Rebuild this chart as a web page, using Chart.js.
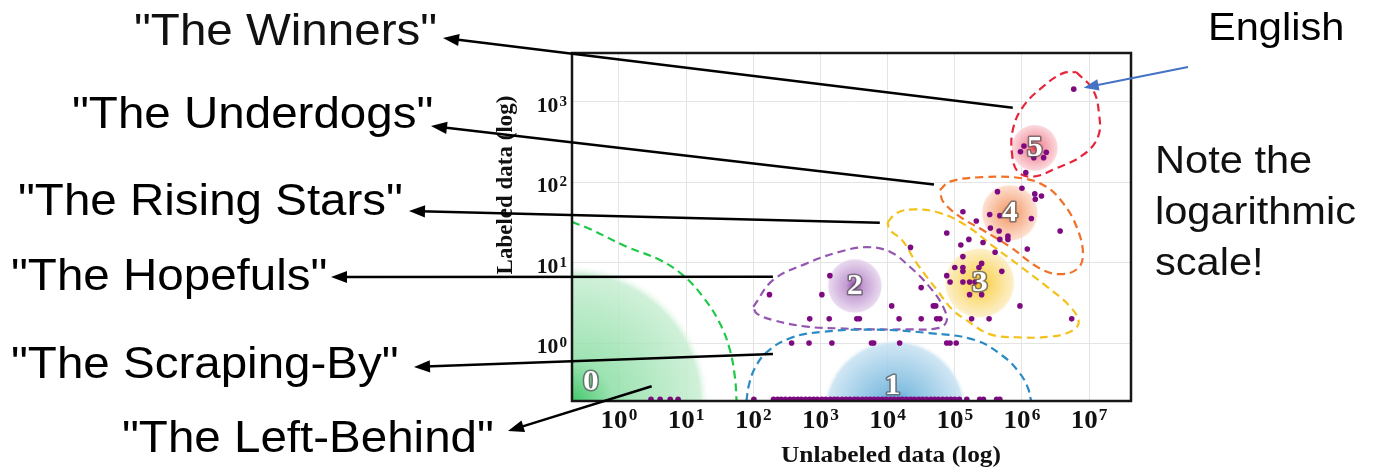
<!DOCTYPE html>
<html>
<head>
<meta charset="utf-8">
<script src="https://cdn.jsdelivr.net/npm/chart.js@4.4.1/dist/chart.umd.min.js"></script>
<style>
  html, body { margin: 0; padding: 0; background: #fff; }
  canvas { display: block; }
</style>
</head>
<body>
<canvas id="chart" width="1375" height="470"></canvas>
<script>
// axis ranges and ticks
const xMin = 0.2, xMax = 4.2e7;
const yMin = 0.19, yMax = 4070;
const xTicks = [1, 10, 100, 1e3, 1e4, 1e5, 1e6, 1e7];
const yTicks = [1, 10, 100, 1e3];
const xTickPowers = ['0', '1', '2', '3', '4', '5', '6', '7'];
const yTickPowers = ['0', '1', '2', '3'];

// languages with (almost) no labeled data sit on the floor of the plot
const floorY = 0.2;
const floorX = [3, 4.1, 5.8, 7.6, 102,
  200, 230, 260, 300, 350, 400, 460, 520, 600, 690, 790, 900, 1050, 1200, 1400, 1600,
  1800, 2100, 2400, 2750, 3200, 3600, 4200, 4800, 5500, 6300, 7200, 8300, 9500, 11000,
  12500, 14500, 16500, 19000, 22000, 25000, 29000, 33000, 38000, 44000, 50000, 57000,
  66000, 76000, 87000, 100000, 117000, 151000, 235000, 267000, 420000, 468000];

// all the other languages
const langX = [372, 676, 1480, 5750, 6200, 15100, 75900, 85000, 105000,
  692, 1350, 3470, 3800, 14800, 31600, 53700, 60000, 178000, 324000, 5.5e6,
  174, 1380, 1050, 11500, 31600, 47900, 52000, 21900, 75900, 132000, 209000, 339000,
  457000, 617000, 617000, 468000, 162000, 123000, 263000, 398000, 1.2e6, 132000,
  100000, 132000, 132000, 229000, 251000, 501000, 75900, 85100, 132000, 166000,
  200000, 166000, 251000, 933000,
  432000, 1.0e6, 1.55e6, 1.95e6, 1.58e6, 331000, 468000, 1.38e6, 3.7e6,
  1.07e6, 9.5e5, 2.3e6, 2.1e6, 1.5e6, 1.14e6, 5.9e6];
const langY = [1, 1, 1, 1, 1, 1, 1, 1, 1,
  2, 2, 2, 2, 2, 2, 2, 2, 2, 2, 2,
  4.0, 6.9, 4.0, 2.9, 4.9, 2.9, 2.9, 15.5, 23.4, 43, 33, 27,
  24.8, 21.4, 19.5, 19.5, 19.5, 16.6, 17.8, 13.5, 14.8, 11.9,
  8.7, 8.7, 7.8, 8.7, 9.8, 7.8, 6.9, 5.75, 5.75, 5.75,
  5.75, 4.0, 4.0, 2.9,
  76.6, 84.3, 71.8, 67.6, 61.7, 39.8, 38.5, 35.5, 24.8,
  283, 240, 237, 203, 203, 132, 1445];

// dashed cluster outlines
const contour0X = [0.2, 0.37, 1.3, 4.07, 8.96, 17.8, 31.8, 44.9, 53.2, 56.4];
const contour0Y = [32, 26.3, 15.8, 10.8, 7.0, 3.77, 1.76, 0.82, 0.38, 0.19];
const contour1X = [79, 86, 106, 159, 351, 1090, 6000, 42000, 199000, 520000, 930000, 1.22e6, 1.37e6];
const contour1Y = [0.19, 0.30, 0.49, 0.77, 1.15, 1.38, 1.47, 1.33, 1.09, 0.69, 0.42, 0.28, 0.19];
const contour2X = [100, 198, 621, 1950, 4850, 10800, 21400, 42000, 67000, 75000, 53000, 19100, 6100, 1950, 621, 198, 112, 100];
const contour2Y = [2.83, 6.1, 9.8, 13.7, 15.6, 13.7, 8.9, 5.0, 2.83, 1.84, 1.52, 1.48, 1.48, 1.52, 1.6, 1.93, 2.34, 2.83];
const contour3X = [1.0e4, 1.37e4, 2.5e4, 6.0e4, 1.51e5, 3.7e5, 9.3e5, 2.3e6, 5.1e6, 7.0e6, 5.5e6, 2.6e6, 8.3e5, 3.3e5, 1.49e5, 9.3e4, 5.4e4, 2.7e4, 1.63e4, 1.08e4, 1.0e4];
const contour3Y = [32, 41.6, 46, 41.6, 28.6, 16.1, 9.1, 5.1, 2.9, 1.83, 1.41, 1.2, 1.18, 1.29, 1.93, 2.58, 4.6, 9.9, 19.2, 25.5, 32];
const contour4X = [6.0e4, 8.4e4, 2.6e5, 1.04e6, 2.3e6, 4.1e6, 6.5e6, 8.1e6, 6.8e6, 3.7e6, 1.84e6, 6.6e5, 2.6e5, 1.19e5, 6.7e4, 6.0e4];
const contour4Y = [80, 102, 116, 112, 88, 55, 28, 13.1, 8.5, 7.2, 8.5, 15.8, 25.5, 37.4, 57.5, 80];
const contour5X = [6.47e6, 1.14e7, 1.40e7, 1.36e7, 8.1e6, 3.26e6, 1.46e6, 8.7e5, 7.1e5, 7.4e5, 1.04e6, 2.06e6, 4.09e6, 6.47e6];
const contour5Y = [2350, 1416, 726, 371, 219, 150, 118, 136, 230, 472, 877, 1556, 2286, 2350];

// cluster glows and their numbers
const clusterNames = ['0', '1', '2', '3', '4', '5'];
const glowX = [0.2, 12900, 3250, 235000, 658000, 1.55e6];
const glowY = [0.184, 0.14, 5.13, 5.59, 41.6, 268];
const nameX = [0.38, 11900, 3250, 235000, 658000, 1.55e6];
const nameY = [0.336, 0.30, 5.13, 5.59, 41.6, 268];

// annotation labels and where their arrows point in the plot
const calloutText = ['"The Winners"', '"The Underdogs"', '"The Rising Stars"', '"The Hopefuls"', '"The Scraping-By"', '"The Left-Behind"'];
const calloutX = [7.3e5, 4.9e4, 7650, 196, 196, 3.07];
const calloutY = [845, 94, 31.5, 6.7, 0.73, 0.29];
const englishX = 8.3e6, englishY = 1500;

const purple = '#7d0a80';
const glowStyles = [
  { r: 138, stops: ['rgba(55,196,98,0.95)', 'rgba(140,222,165,0.85)', 'rgba(200,238,210,0.85)'] },
  { r: 73, stops: ['rgba(20,122,192,0.95)', 'rgba(110,180,220,0.85)', 'rgba(200,226,242,0.85)'] },
  { r: 28, stops: ['rgba(128,45,150,0.95)', 'rgba(185,138,202,0.85)', 'rgba(228,210,236,0.85)'] },
  { r: 36, stops: ['rgba(246,178,0,0.95)', 'rgba(249,210,80,0.85)', 'rgba(252,236,190,0.85)'] },
  { r: 29, stops: ['rgba(240,98,22,0.95)', 'rgba(245,158,112,0.85)', 'rgba(252,218,200,0.85)'] },
  { r: 24, stops: ['rgba(230,38,62,0.95)', 'rgba(240,128,142,0.85)', 'rgba(250,208,214,0.85)'] }
];
const contourColors = ['#1ec848', '#2a8bc4', '#9556b0', '#f2c21a', '#f07025', '#e8243c'];

const serif = "'Liberation Serif', 'Times New Roman', serif";
const sans = "'Liberation Sans', Arial, sans-serif";
const stretch = 1.08;

const toXY = (xs, ys) => xs.map((x, i) => ({ x: x, y: ys[i] }));

function stretchedText(ctx, str, x, y, font, align) {
    ctx.save();
    ctx.translate(x, y);
    ctx.scale(stretch, 1);
    ctx.font = font;
    ctx.textAlign = align || 'left';
    ctx.textBaseline = 'alphabetic';
    ctx.fillText(str, 0, 0);
    ctx.restore();
}

function drawArrow(ctx, x1, y1, x2, y2, color, width, head) {
    const ang = Math.atan2(y2 - y1, x2 - x1);
    const c = Math.cos(ang), s = Math.sin(ang);
    ctx.strokeStyle = color;
    ctx.fillStyle = color;
    ctx.lineWidth = width;
    ctx.beginPath();
    ctx.moveTo(x1, y1);
    ctx.lineTo(x2 - c * head * 0.7, y2 - s * head * 0.7);
    ctx.stroke();
    ctx.beginPath();
    ctx.moveTo(x2, y2);
    ctx.lineTo(x2 - head * c + head * 0.38 * s, y2 - head * s - head * 0.38 * c);
    ctx.lineTo(x2 - head * c - head * 0.38 * s, y2 - head * s + head * 0.38 * c);
    ctx.closePath();
    ctx.fill();
}

const glowPlugin = {
    id: 'glows',
    beforeDatasetsDraw(chart) {
        const { ctx, chartArea: a, scales: { x, y } } = chart;
        ctx.save();
        ctx.beginPath();
        ctx.rect(a.left, a.top, a.width, a.height);
        ctx.clip();
        glowStyles.forEach((g, i) => {
            const cx = x.getPixelForValue(glowX[i]);
            const cy = y.getPixelForValue(glowY[i]);
            const grad = ctx.createRadialGradient(cx, cy, 0, cx, cy, g.r);
            grad.addColorStop(0, g.stops[0]);
            grad.addColorStop(0.3, g.stops[1]);
            grad.addColorStop(0.93, g.stops[2]);
            grad.addColorStop(1, 'rgba(255,255,255,0)');
            ctx.fillStyle = grad;
            ctx.beginPath();
            ctx.arc(cx, cy, g.r, 0, Math.PI * 2);
            ctx.fill();
        });
        ctx.restore();
    },
    afterDatasetsDraw(chart) {
        const { ctx, chartArea: a, scales: { x, y } } = chart;
        // cluster numbers
        clusterNames.forEach((n, i) => {
            const px = x.getPixelForValue(nameX[i]);
            const py = y.getPixelForValue(nameY[i]);
            ctx.save();
            ctx.translate(px, py);
            ctx.scale(stretch, 1);
            ctx.font = 'bold 29px ' + serif;
            ctx.textAlign = 'center';
            ctx.textBaseline = 'middle';
            ctx.lineJoin = 'round';
            ctx.strokeStyle = 'rgba(90,90,90,0.75)';
            ctx.lineWidth = 3;
            ctx.strokeText(n, 0, 1);
            ctx.fillStyle = '#fff';
            ctx.fillText(n, 0, 1);
            ctx.restore();
        });
        // plot frame
        ctx.save();
        ctx.strokeStyle = '#161616';
        ctx.lineWidth = 2.5;
        ctx.strokeRect(a.left, a.top, a.width, a.height);
        ctx.restore();
    }
};

const overlayPlugin = {
    id: 'overlay',
    afterDraw(chart) {
        const { ctx, scales: { x, y } } = chart;
        ctx.save();
        ctx.fillStyle = '#111';
        // tick labels with superscript powers
        xTicks.forEach((v, i) => {
            const px = x.getPixelForValue(v);
            ctx.font = 'bold 25px ' + serif;
            const w1 = ctx.measureText('10').width;
            ctx.font = 'bold 16px ' + serif;
            const w2 = ctx.measureText(xTickPowers[i]).width;
            const left = px - (w1 + w2 + 1) * stretch / 2;
            stretchedText(ctx, '10', left, 428, 'bold 25px ' + serif);
            stretchedText(ctx, xTickPowers[i], left + (w1 + 1) * stretch, 420, 'bold 16px ' + serif);
        });
        yTicks.forEach((v, i) => {
            const py = y.getPixelForValue(v);
            ctx.font = 'bold 14px ' + serif;
            const w2 = ctx.measureText(yTickPowers[i]).width;
            stretchedText(ctx, yTickPowers[i], 567, py + 4, 'bold 14px ' + serif, 'right');
            stretchedText(ctx, '10', 567 - (w2 + 1) * stretch, py + 10, 'bold 20px ' + serif, 'right');
        });
        // axis titles
        stretchedText(ctx, 'Unlabeled data (log)', 891, 462, 'bold 23.5px ' + serif, 'center');
        ctx.save();
        ctx.translate(512, 185);
        ctx.rotate(-Math.PI / 2);
        ctx.font = 'bold 23px ' + serif;
        ctx.textAlign = 'center';
        ctx.fillText('Labeled data (log)', 0, 0);
        ctx.restore();

        // callouts on the left
        const textLeft = [134, 72, 18, 11, 11, 122];
        const textBase = [45, 128, 215, 290, 378, 452];
        const tipX = [443, 431, 409, 331, 414, 508];
        const tipY = [38, 126, 211, 277, 367, 431];
        calloutText.forEach((t, i) => {
            stretchedText(ctx, t, textLeft[i], textBase[i], '44px ' + sans);
            drawArrow(ctx, x.getPixelForValue(calloutX[i]), y.getPixelForValue(calloutY[i]),
                tipX[i], tipY[i], '#000', 2.5, 16);
        });

        // notes on the right
        stretchedText(ctx, 'English', 1208, 40, '38.5px ' + sans);
        drawArrow(ctx, 1188, 67, x.getPixelForValue(englishX), y.getPixelForValue(englishY), '#4472c4', 2, 15);
        ctx.fillStyle = '#111';
        stretchedText(ctx, 'Note the', 1155, 173, '38.5px ' + sans);
        stretchedText(ctx, 'logarithmic', 1155, 224, '38.5px ' + sans);
        stretchedText(ctx, 'scale!', 1155, 275, '38.5px ' + sans);
        ctx.restore();
    }
};

const contours = [
    [contour0X, contour0Y], [contour1X, contour1Y], [contour2X, contour2Y],
    [contour3X, contour3Y], [contour4X, contour4Y], [contour5X, contour5Y]
];

const datasets = [
    {
        label: 'no labeled data',
        data: floorX.map(x => ({ x: x, y: floorY })),
        backgroundColor: purple,
        pointRadius: 2.8,
        pointBorderWidth: 0,
        order: 0
    },
    {
        label: 'languages',
        data: toXY(langX, langY),
        backgroundColor: purple,
        pointRadius: 2.8,
        pointBorderWidth: 0,
        order: 0
    }
].concat(contours.map((c, i) => ({
    label: 'cluster ' + i,
    data: toXY(c[0], c[1]),
    showLine: true,
    borderColor: contourColors[i],
    borderWidth: 2.2,
    borderDash: [8, 5],
    tension: 0.4,
    pointRadius: 0,
    fill: false,
    order: 1
})));

new Chart(document.getElementById('chart'), {
    type: 'scatter',
    data: { datasets: datasets },
    options: {
        responsive: false,
        animation: false,
        events: [],
        layout: { padding: { left: 490, right: 244, top: 53, bottom: 3 } },
        plugins: {
            legend: { display: false },
            tooltip: { enabled: false }
        },
        scales: {
            x: {
                type: 'logarithmic',
                min: xMin,
                max: xMax,
                afterBuildTicks: s => { s.ticks = xTicks.map(v => ({ value: v })); },
                afterFit: s => { s.height = 66; },
                ticks: { display: false },
                grid: { color: '#e4e4e4', lineWidth: 1, drawTicks: false },
                border: { display: false }
            },
            y: {
                type: 'logarithmic',
                min: yMin,
                max: yMax,
                afterBuildTicks: s => { s.ticks = yTicks.map(v => ({ value: v })); },
                afterFit: s => { s.width = 82; },
                ticks: { display: false },
                grid: { color: '#e4e4e4', lineWidth: 1, drawTicks: false },
                border: { display: false }
            }
        }
    },
    plugins: [glowPlugin, overlayPlugin]
});
</script>
</body>
</html>
